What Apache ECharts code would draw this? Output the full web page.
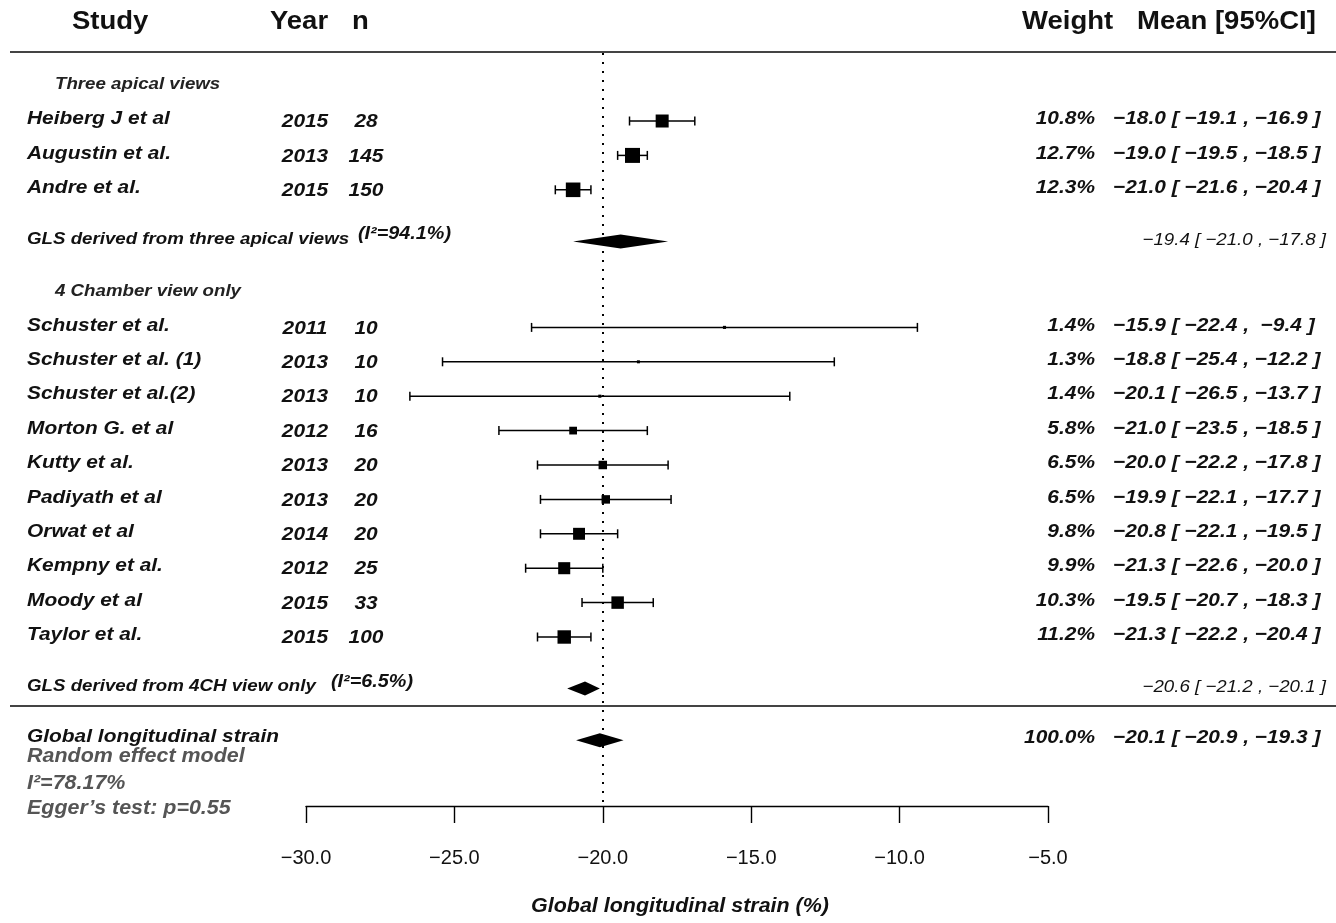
<!DOCTYPE html>
<html>
<head>
<meta charset="utf-8">
<title>Forest plot – Global longitudinal strain</title>
<script src="https://cdn.jsdelivr.net/npm/echarts@6/dist/echarts.min.js"></script>
<style>
  html, body { margin: 0; padding: 0; background: #fff; }
  #chart { width: 1336px; height: 923px; }
</style>
</head>
<body>
<div id="chart"></div>
<script>
// ---- Individual studies ----
const studies = ['Heiberg J et al', 'Augustin et al.', 'Andre et al.',
  'Schuster et al.', 'Schuster et al. (1)', 'Schuster et al.(2)', 'Morton G. et al',
  'Kutty et al.', 'Padiyath et al', 'Orwat et al', 'Kempny et al.', 'Moody et al', 'Taylor et al.'];
const years = [2015, 2013, 2015, 2011, 2013, 2013, 2012, 2013, 2013, 2014, 2012, 2015, 2015];
const sampleSizes = [28, 145, 150, 10, 10, 10, 16, 20, 20, 20, 25, 33, 100];
const weights = [10.8, 12.7, 12.3, 1.4, 1.3, 1.4, 5.8, 6.5, 6.5, 9.8, 9.9, 10.3, 11.2];
const means = [-18.0, -19.0, -21.0, -15.9, -18.8, -20.1, -21.0, -20.0, -19.9, -20.8, -21.3, -19.5, -21.3];
const lowers = [-19.1, -19.5, -21.6, -22.4, -25.4, -26.5, -23.5, -22.2, -22.1, -22.1, -22.6, -20.7, -22.2];
const uppers = [-16.9, -18.5, -20.4, -9.4, -12.2, -13.7, -18.5, -17.8, -17.7, -19.5, -20.0, -18.3, -20.4];
const studyRows = [1, 2, 3, 7, 8, 9, 10, 11, 12, 13, 14, 15, 16];

// ---- Pooled estimates ----
const pooledLabels = ['GLS derived from three apical views', 'GLS derived from 4CH view only', 'Global longitudinal strain'];
const pooledI2 = ['(I\u00B2=94.1%)', '(I\u00B2=6.5%)', ''];
const pooledWeights = ['', '', '100.0%'];
const pooledMeans = [-19.4, -20.6, -20.1];
const pooledLowers = [-21.0, -21.2, -20.9];
const pooledUppers = [-17.8, -20.1, -19.3];
const pooledRows = [4.5, 17.5, 19];

// ---- Subgroup headings ----
const sectionLabels = ['Three apical views', '4 Chamber view only'];
const sectionRows = [0, 6];

// ---- Model notes ----
const modelNotes = ['Random effect model', 'I\u00B2=78.17%', 'Egger\u2019s test: p=0.55'];

// ---- Axis ----
const xTicks = [-30, -25, -20, -15, -10, -5];
const referenceValue = -20;
const axisTitle = 'Global longitudinal strain (%)';

const FONT = '"Liberation Sans", Arial, sans-serif';
const STRETCH = 1.1;   // text is drawn slightly wide
const fmt = v => (v < 0 ? '\u2212' : '') + Math.abs(v).toFixed(1);
const fmtCI = (m, lo, hi) => {
  const h = Math.abs(hi) < 10 ? '  ' : ' ';
  return fmt(m) + ' [ ' + fmt(lo) + ' ,' + h + fmt(hi) + ' ]';
};

// Text anchored at (x, y), widened around its anchor point
function textEl(text, x, y, font, align, fill) {
  return {
    type: 'text',
    x: x, y: y, scaleX: STRETCH,
    style: { text: text, x: 0, y: 0, font: font, textAlign: align, textVerticalAlign: 'middle', fill: fill || '#111' }
  };
}

function renderStudy(params, api) {
  const i = params.dataIndex;
  const row = api.value(3);
  const y = api.coord([api.value(0), row])[1];
  const xm = api.coord([api.value(0), row])[0];
  const xl = api.coord([api.value(1), row])[0];
  const xu = api.coord([api.value(2), row])[0];
  const w = api.value(4);
  const s = 3 + (w - 1.3) * 12 / 11.4;   // square grows with study weight
  const lineStyle = { stroke: '#000', lineWidth: 1.5 };
  const bold = 'italic bold 19px ' + FONT;
  return {
    type: 'group',
    children: [
      { type: 'line', shape: { x1: xl, y1: y, x2: xu, y2: y }, style: lineStyle },
      { type: 'line', shape: { x1: xl, y1: y - 4.5, x2: xl, y2: y + 4.5 }, style: lineStyle },
      { type: 'line', shape: { x1: xu, y1: y - 4.5, x2: xu, y2: y + 4.5 }, style: lineStyle },
      { type: 'rect', shape: { x: xm - s / 2, y: y - s / 2, width: s, height: s }, style: { fill: '#000' } },
      textEl(studies[i], 27, y - 2, bold, 'left'),
      textEl(String(years[i]), 305, y + 1, bold, 'center'),
      textEl(String(sampleSizes[i]), 366, y + 1, bold, 'center'),
      textEl(weights[i].toFixed(1) + '%', 1095, y - 2, bold, 'right'),
      textEl(fmtCI(means[i], lowers[i], uppers[i]), 1113, y - 2, bold, 'left')
    ]
  };
}

function renderPooled(params, api) {
  const i = params.dataIndex;
  const row = api.value(3);
  const y = api.coord([api.value(0), row])[1];
  const xm = api.coord([api.value(0), row])[0];
  const xl = api.coord([api.value(1), row])[0];
  const xu = api.coord([api.value(2), row])[0];
  const h = 7;
  const isOverall = i === pooledLabels.length - 1;
  const children = [
    { type: 'polygon', shape: { points: [[xl, y], [xm, y - h], [xu, y], [xm, y + h]] }, style: { fill: '#000' } }
  ];
  if (isOverall) {
    const bold = 'italic bold 19px ' + FONT;
    children.push(textEl(pooledLabels[i], 27, y - 3, bold, 'left'));
    children.push(textEl(pooledWeights[i], 1095, y - 2, bold, 'right'));
    children.push(textEl(fmtCI(pooledMeans[i], pooledLowers[i], pooledUppers[i]), 1113, y - 2, bold, 'left'));
  } else {
    children.push(textEl(pooledLabels[i], 27, y - 2, 'italic bold 17px ' + FONT, 'left'));
    children.push(textEl(pooledI2[i], i === 0 ? 358 : 331, y - 7, 'italic bold 18px ' + FONT, 'left'));
    const ci = fmt(pooledMeans[i]) + ' [ ' + fmt(pooledLowers[i]) + ' , ' + fmt(pooledUppers[i]) + ' ]';
    children.push(textEl(ci, 1326, y - 1, 'italic 17px ' + FONT, 'right'));
  }
  return { type: 'group', children: children };
}

function renderSection(params, api) {
  const i = params.dataIndex;
  const y = api.coord([-30, api.value(1)])[1];
  return textEl(sectionLabels[i], 55, y - 2, 'italic bold 17px ' + FONT, 'left', '#222');
}

const chart = echarts.init(document.getElementById('chart'), null, { renderer: 'canvas' });

const headerFont = 'bold 25px ' + FONT;
const noteFont = 'italic bold 19.5px ' + FONT;

const option = {
  backgroundColor: '#fff',
  animation: false,
  grid: { left: 306, right: 288, top: 53, bottom: 117, containLabel: false },
  xAxis: {
    type: 'value',
    min: xTicks[0],
    max: xTicks[xTicks.length - 1],
    interval: 5,
    position: 'bottom',
    axisLine: { show: true, onZero: false, lineStyle: { color: '#000', width: 1.4 } },
    axisTick: { show: true, length: 17, lineStyle: { color: '#000', width: 1.4 } },
    axisLabel: { margin: 42, color: '#111', fontFamily: FONT, fontSize: 20, formatter: v => fmt(v) },
    splitLine: { show: false }
  },
  yAxis: {
    type: 'value',
    inverse: true,
    min: -0.977,
    max: 20.913,
    show: false
  },
  series: [
    {
      type: 'custom',
      name: 'studies',
      clip: false,
      renderItem: renderStudy,
      encode: { x: [0, 1, 2], y: 3 },
      data: means.map((m, i) => [m, lowers[i], uppers[i], studyRows[i], weights[i]]),
      markLine: {
        silent: true,
        symbol: 'none',
        label: { show: false },
        lineStyle: { color: '#000', type: [2, 7], width: 2 },
        data: [{ xAxis: referenceValue }]
      }
    },
    {
      type: 'custom',
      name: 'pooled',
      clip: false,
      renderItem: renderPooled,
      encode: { x: [0, 1, 2], y: 3 },
      data: pooledMeans.map((m, i) => [m, pooledLowers[i], pooledUppers[i], pooledRows[i]])
    },
    {
      type: 'custom',
      name: 'sections',
      clip: false,
      renderItem: renderSection,
      encode: { y: 1 },
      data: sectionRows.map(r => [-30, r])
    }
  ],
  graphic: [
    textEl('Study', 72, 22, headerFont, 'left'),
    textEl('Year', 270, 22, headerFont, 'left'),
    textEl('n', 352, 22, headerFont, 'left'),
    textEl('Weight', 1022, 22, headerFont, 'left'),
    textEl('Mean [95%CI]', 1137, 22, headerFont, 'left'),
    { type: 'line', shape: { x1: 10, y1: 52, x2: 1336, y2: 52 }, style: { stroke: '#444', lineWidth: 2 } },
    { type: 'line', shape: { x1: 10, y1: 706, x2: 1336, y2: 706 }, style: { stroke: '#444', lineWidth: 2 } },
    textEl(modelNotes[0], 27, 757, noteFont, 'left', '#555'),
    textEl(modelNotes[1], 27, 784, noteFont, 'left', '#555'),
    textEl(modelNotes[2], 27, 809, noteFont, 'left', '#555'),
    textEl(axisTitle, 680, 907, 'italic bold 19.5px ' + FONT, 'center', '#111')
  ]
};

chart.setOption(option);
</script>
</body>
</html>
